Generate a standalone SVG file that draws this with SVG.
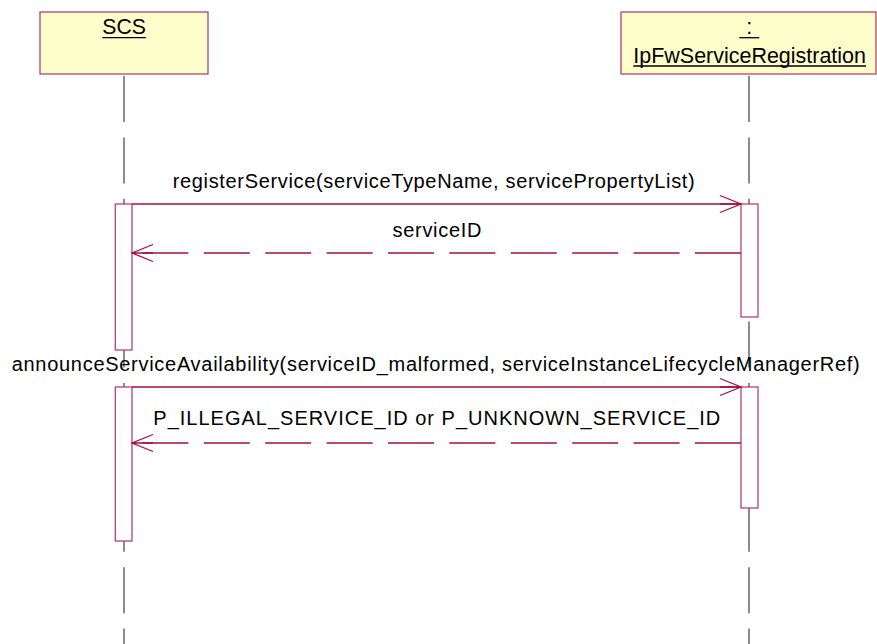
<svg xmlns="http://www.w3.org/2000/svg" width="877" height="644" viewBox="0 0 877 644">
<style>
.head{fill:#FFFFCC;stroke:#B8436E;stroke-width:1.3}
.act{fill:#FFFFFF;stroke:#B8436E;stroke-width:1.3}
.life{stroke:#404040;stroke-width:1.2;stroke-dasharray:46 15.4;fill:none}
.msg{stroke:#A50F46;stroke-width:1.3;fill:none}
.ret{stroke:#A50F46;stroke-width:1.3;fill:none;stroke-dasharray:46 15.4}
.ul{stroke:#000;stroke-width:1.3}
text{font-family:"Liberation Sans",Arial,sans-serif;fill:#000}
.ht{font-size:21.5px}
.mt{font-size:20px}
</style>
<defs>
<marker id="open" markerUnits="userSpaceOnUse" markerWidth="30" markerHeight="30" viewBox="-25 -12 30 24" refX="0" refY="0" orient="auto" overflow="visible">
<path d="M-21,-8.5 L0,0 L-21,8.5 M0,0 L-21,0" fill="none" stroke="#A50F46" stroke-width="1.3" stroke-dasharray="none"/>
</marker>
</defs>
<g id="lifelines">
<line class="life" x1="124" y1="76" x2="124" y2="644"/>
<line class="life" x1="749" y1="76" x2="749" y2="644"/>
</g>
<g id="node-scs">
<rect class="head" x="40" y="12" width="168" height="62"/>
<text class="ht" x="102.3" y="34.3" textLength="43.7" lengthAdjust="spacingAndGlyphs">SCS</text>
<line class="ul" x1="102.3" y1="37.7" x2="146" y2="37.7"/>
</g>
<g id="node-ipfw">
<rect class="head" x="621" y="12" width="255" height="62"/>
<text class="ht" x="749.3" y="34" text-anchor="middle">:</text>
<line class="ul" x1="739.3" y1="37.7" x2="759.3" y2="37.7"/>
<text class="ht" x="633.3" y="63.3" textLength="232.7" lengthAdjust="spacingAndGlyphs">IpFwServiceRegistration</text>
<line class="ul" x1="633.3" y1="66" x2="866" y2="66"/>
</g>
<g id="activations">
<rect class="act" x="115.3" y="204" width="16.7" height="146"/>
<rect class="act" x="741" y="204" width="17" height="113"/>
<rect class="act" x="115.3" y="387" width="16.7" height="154"/>
<rect class="act" x="741" y="387" width="17" height="121"/>
</g>
<g id="connectors">
<line class="msg" x1="132" y1="204" x2="741" y2="204" marker-end="url(#open)"/>
<line class="ret" x1="741" y1="253" x2="132" y2="253" marker-end="url(#open)"/>
<line class="msg" x1="132" y1="387" x2="741" y2="387" marker-end="url(#open)"/>
<line class="ret" x1="741" y1="443" x2="132" y2="443" marker-end="url(#open)"/>
</g>
<g id="labels">
<text class="mt" x="172.7" y="188" textLength="522" lengthAdjust="spacing">registerService(serviceTypeName, servicePropertyList)</text>
<text class="mt" x="392.5" y="237" textLength="89" lengthAdjust="spacing">serviceID</text>
<text class="mt" x="11.7" y="371" textLength="848" lengthAdjust="spacing">announceServiceAvailability(serviceID_malformed, serviceInstanceLifecycleManagerRef)</text>
<text class="mt" x="153.3" y="425" textLength="567" lengthAdjust="spacing">P_ILLEGAL_SERVICE_ID or P_UNKNOWN_SERVICE_ID</text>
</g>
</svg>
